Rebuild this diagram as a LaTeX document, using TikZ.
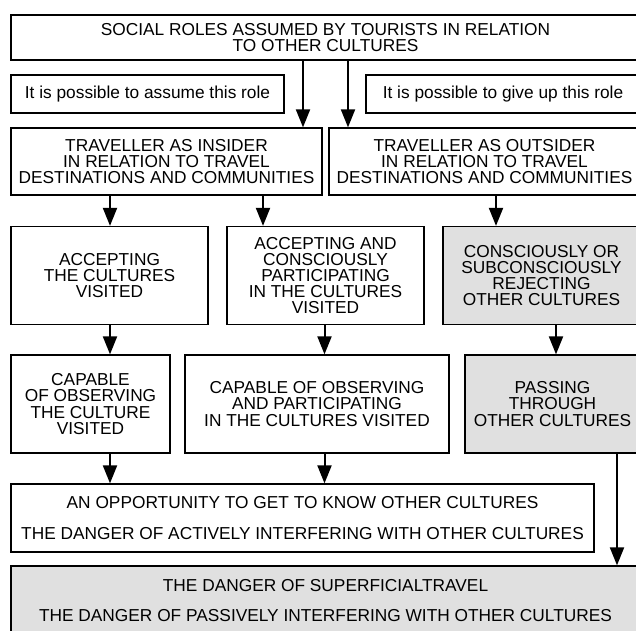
\documentclass[tikz,border=0pt]{standalone}
\usepackage{fontspec}
\setmainfont{Liberation Sans}
\usetikzlibrary{arrows.meta}
\definecolor{boxgray}{RGB}{224,224,224}
\begin{document}
\begin{tikzpicture}[x=1pt,y=-1pt,
  box/.style={draw=black,line width=1.3pt,fill=white,align=center,inner sep=0pt,
    font=\fontsize{17.3}{16.2}\selectfont},
  graybox/.style={box,fill=boxgray},
  arr/.style={line width=2pt,-{Triangle[length=18pt,width=14pt]}}]
\useasboundingbox (0,0) rectangle (636,630);
\clip (0,0) rectangle (636,630);
\fill[white] (0,0) rectangle (636,630);
% boxes: centre = ((x1+x2)/2,(y1+y2)/2)
\node[box,minimum width=629pt,minimum height=45pt] (top) at (325.5,37.5)
  {SOCIAL ROLES ASSUMED BY TOURISTS IN RELATION\\TO OTHER CULTURES};
\node[box,minimum width=273pt,minimum height=38pt] (assume) at (147.5,94)
  {It is possible to assume this role};
\node[box,minimum width=274pt,minimum height=38pt] (giveup) at (503,94)
  {It is possible to give up this role};
\node[box,minimum width=311pt,minimum height=67pt] (insider) at (166.5,161.5)
  {TRAVELLER AS INSIDER\\IN RELATION TO TRAVEL\\DESTINATIONS AND COMMUNITIES};
\node[box,minimum width=311pt,minimum height=67pt] (outsider) at (484.5,161.5)
  {TRAVELLER AS OUTSIDER\\IN RELATION TO TRAVEL\\DESTINATIONS AND COMMUNITIES};
\node[box,minimum width=197pt,minimum height=98pt] (accept) at (109.5,275.5)
  {ACCEPTING\\THE CULTURES\\VISITED};
\node[box,minimum width=197pt,minimum height=98pt] (acceptpart) at (325.5,275.5)
  {ACCEPTING AND\\CONSCIOUSLY\\PARTICIPATING\\IN THE CULTURES\\VISITED};
\node[graybox,minimum width=197pt,minimum height=98pt] (reject) at (541.5,275.5)
  {CONSCIOUSLY OR\\SUBCONSCIOUSLY\\REJECTING\\OTHER CULTURES};
\node[box,minimum width=159pt,minimum height=98pt] (capable) at (90.5,404)
  {CAPABLE\\OF OBSERVING\\THE CULTURE\\VISITED};
\node[box,minimum width=264pt,minimum height=98pt] (capobspart) at (317,404)
  {CAPABLE OF OBSERVING\\AND PARTICIPATING\\IN THE CULTURES VISITED};
\node[graybox,minimum width=175pt,minimum height=98pt] (passing) at (552.5,404)
  {PASSING\\THROUGH\\OTHER CULTURES};
\node[box,minimum width=583pt,minimum height=68pt] (opp) at (302.5,518)
  {AN OPPORTUNITY TO GET TO KNOW OTHER CULTURES\\[14pt]THE DANGER OF ACTIVELY INTERFERING WITH OTHER CULTURES};
\node[graybox,minimum width=629pt,minimum height=69pt] (bottom) at (325.5,600.5)
  {THE DANGER OF SUPERFICIALTRAVEL\\[14pt]THE DANGER OF PASSIVELY INTERFERING WITH OTHER CULTURES};
% connector x positions
\coordinate (xa) at (303,0);
\coordinate (xb) at (348,0);
\coordinate (xc) at (110,0);
\coordinate (xd) at (263,0);
\coordinate (xe) at (496,0);
\coordinate (xf) at (324.5,0);
\coordinate (xg) at (556,0);
\coordinate (xh) at (617,0);
\draw[arr] (top.south -| xa) -- (insider.north -| xa);
\draw[arr] (top.south -| xb) -- (outsider.north -| xb);
\draw[arr] (insider.south -| xc) -- (accept.north -| xc);
\draw[arr] (insider.south -| xd) -- (acceptpart.north -| xd);
\draw[arr] (outsider.south -| xe) -- (reject.north -| xe);
\draw[arr] (accept.south -| xc) -- (capable.north -| xc);
\draw[arr] (acceptpart.south -| xf) -- (capobspart.north -| xf);
\draw[arr] (reject.south -| xg) -- (passing.north -| xg);
\draw[arr] (capable.south -| xc) -- (opp.north -| xc);
\draw[arr] (capobspart.south -| xf) -- (opp.north -| xf);
\draw[arr] (passing.south -| xh) -- (bottom.north -| xh);
\end{tikzpicture}
\end{document}
